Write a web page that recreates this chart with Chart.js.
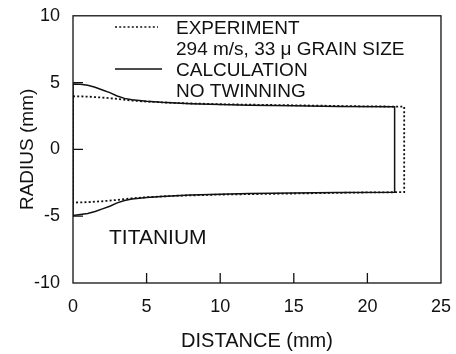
<!DOCTYPE html>
<html>
<head>
<meta charset="utf-8">
<script src="https://cdn.jsdelivr.net/npm/chart.js@4.4.0/dist/chart.umd.min.js"></script>
<style>
  html, body { margin: 0; padding: 0; background: #fff; }
  #wrap { width: 456px; height: 354px; }
</style>
</head>
<body>
<div id="wrap"><canvas id="chart" width="456" height="354"></canvas></div>
<script>
// Axis ticks
const xTicks = [0, 5, 10, 15, 20, 25];
const yTicks = [-10, -5, 0, 5, 10];

// Calculation (solid) - upper profile, right edge, lower profile
const calcTopX = [0, 0.5, 1, 1.5, 2, 2.5, 3, 3.5, 4, 5, 6, 8, 10, 12, 15, 18, 21.85];
const calcTopY = [4.9, 4.87, 4.8, 4.65, 4.45, 4.25, 4.0, 3.82, 3.72, 3.6, 3.52, 3.42, 3.36, 3.3, 3.26, 3.22, 3.2];
const calcBotX = [21.85, 18, 15, 12, 10, 8, 6, 5, 4, 3.5, 3, 2.5, 2, 1.5, 1, 0.5, 0, 0];
const calcBotY = [-3.2, -3.22, -3.26, -3.3, -3.36, -3.42, -3.52, -3.6, -3.72, -3.82, -4.0, -4.25, -4.45, -4.65, -4.8, -4.87, -4.95, 4.9];

// Experiment (dotted)
const expTopX = [0, 1, 2, 3, 4, 5, 7, 10, 15, 20, 22.5];
const expTopY = [3.98, 3.95, 3.88, 3.78, 3.66, 3.58, 3.47, 3.38, 3.3, 3.22, 3.2];
const expBotX = [22.5, 20, 15, 10, 7, 5, 4, 3, 2, 1, 0, 0];
const expBotY = [-3.2, -3.22, -3.3, -3.38, -3.47, -3.58, -3.66, -3.78, -3.88, -3.95, -3.98, 3.98];

const legendLines = ['EXPERIMENT', '294 m/s, 33 \u03bc GRAIN SIZE', 'CALCULATION', 'NO TWINNING'];
const materialLabel = 'TITANIUM';

const FONT = '"Liberation Sans", Arial, Helvetica, sans-serif';
const INK = '#111';

function toPoints(xs, ys) {
  return xs.map((x, i) => ({ x: x, y: ys[i] }));
}

const calcPoints = toPoints(calcTopX, calcTopY).concat(toPoints(calcBotX, calcBotY));
const expPoints = toPoints(expTopX, expTopY).concat(toPoints(expBotX, expBotY));

// frame, inward ticks, legend and label
const decorations = {
  id: 'decorations',
  afterDraw(chart) {
    const ctx = chart.ctx;
    const a = chart.chartArea;
    const xs = chart.scales.x;
    const ys = chart.scales.y;
    ctx.save();
    ctx.strokeStyle = INK;
    ctx.lineWidth = 1.3;
    ctx.strokeRect(a.left, a.top, a.right - a.left, a.bottom - a.top);

    // inward ticks
    ctx.beginPath();
    xTicks.slice(1, -1).forEach(v => {
      const px = xs.getPixelForValue(v);
      ctx.moveTo(px, a.bottom);
      ctx.lineTo(px, a.bottom - 10);
    });
    yTicks.slice(1, -1).forEach(v => {
      const py = ys.getPixelForValue(v);
      ctx.moveTo(a.left, py);
      ctx.lineTo(a.left + 10, py);
    });
    ctx.stroke();

    // legend
    ctx.font = '19px ' + FONT;
    ctx.fillStyle = INK;
    ctx.textBaseline = 'middle';
    ctx.textAlign = 'left';
    const lx = 176, ly = 29, step = 21;
    legendLines.forEach((t, i) => ctx.fillText(t, lx, ly + i * step));

    ctx.lineWidth = 1.7;
    ctx.setLineDash([2, 2.2]);
    ctx.beginPath();
    ctx.moveTo(115, 27);
    ctx.lineTo(158, 27);
    ctx.stroke();
    ctx.setLineDash([]);
    ctx.lineWidth = 1.5;
    ctx.beginPath();
    ctx.moveTo(115, 69);
    ctx.lineTo(162, 69);
    ctx.stroke();

    ctx.font = '21px ' + FONT;
    ctx.fillText(materialLabel, 109, 238);
    ctx.restore();
  }
};

new Chart(document.getElementById('chart'), {
  type: 'scatter',
  data: {
    datasets: [
      {
        label: 'Experiment',
        data: expPoints,
        showLine: true,
        borderColor: INK,
        borderWidth: 1.8,
        borderDash: [2, 2.2],
        pointRadius: 0,
        tension: 0,
        fill: false
      },
      {
        label: 'Calculation',
        data: calcPoints,
        showLine: true,
        borderColor: INK,
        borderWidth: 1.5,
        pointRadius: 0,
        tension: 0,
        fill: false
      }
    ]
  },
  options: {
    responsive: false,
    animation: false,
    layout: { padding: { top: 15, right: 11, left: 0, bottom: 0 } },
    plugins: {
      legend: { display: false },
      tooltip: { enabled: false }
    },
    scales: {
      x: {
        type: 'linear',
        min: 0,
        max: 25,
        afterBuildTicks: s => { s.ticks = xTicks.map(v => ({ value: v })); },
        afterFit: s => { s.height = 71; },
        grid: { display: false },
        border: { display: false },
        ticks: { color: INK, font: { family: FONT, size: 18 }, padding: 5, maxRotation: 0 },
        title: { display: true, text: 'DISTANCE (mm)', color: INK, font: { family: FONT, size: 20 }, padding: { top: 8, bottom: 1 } }
      },
      y: {
        type: 'linear',
        min: -10,
        max: 10,
        afterBuildTicks: s => { s.ticks = yTicks.map(v => ({ value: v })); },
        afterFit: s => { s.width = 73; },
        grid: { display: false },
        border: { display: false },
        ticks: { color: INK, font: { family: FONT, size: 18 }, padding: 5 },
        title: { display: true, text: 'RADIUS (mm)', color: INK, font: { family: FONT, size: 19 }, padding: { top: 16, bottom: 4 } }
      }
    }
  },
  plugins: [decorations]
});
</script>
</body>
</html>
